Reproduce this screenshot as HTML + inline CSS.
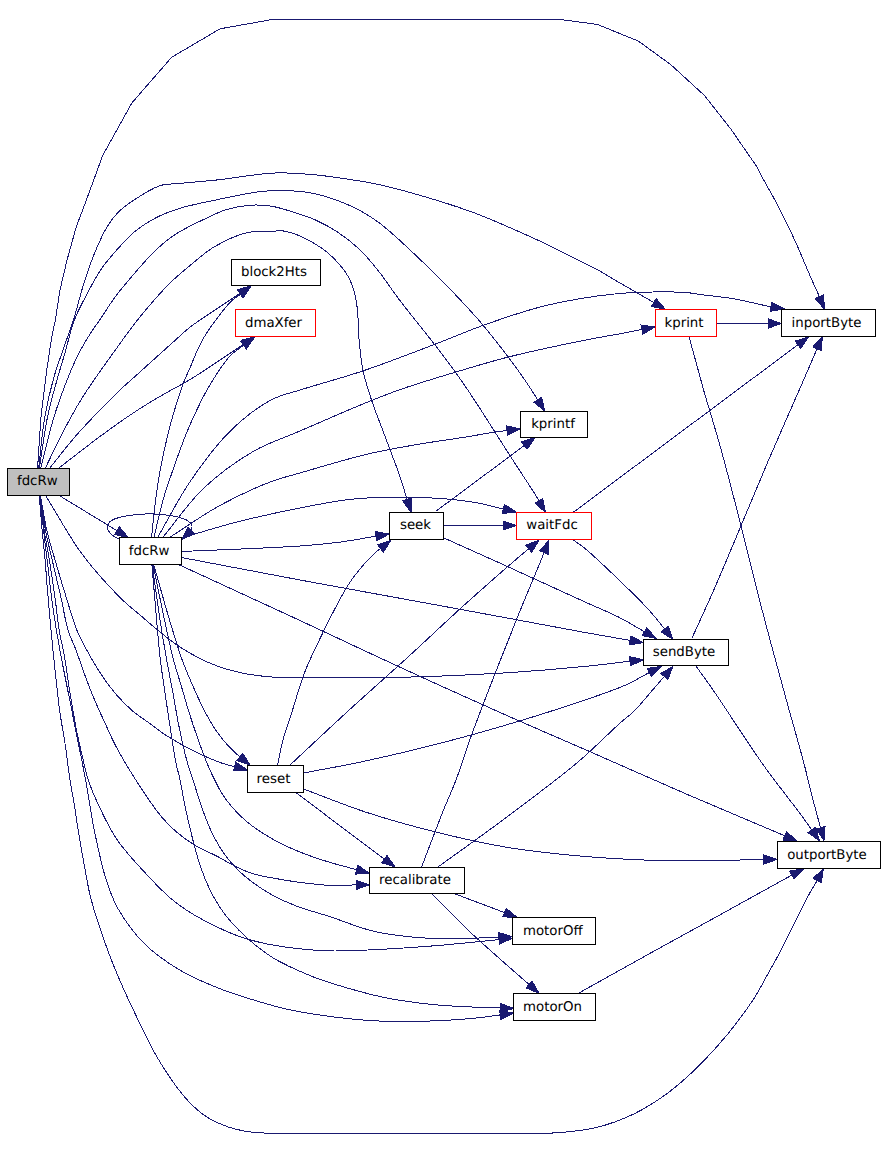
<!DOCTYPE html>
<html lang="en"><head><meta charset="utf-8"><title>fdcRw call graph</title>
<style>html,body{margin:0;padding:0;background:#fff}svg{display:block}.e{fill:none;stroke:#191970;stroke-width:1;shape-rendering:crispEdges}.a{fill:#191970;stroke:#191970;stroke-width:1;stroke-linejoin:miter;shape-rendering:crispEdges}text{font-family:"DejaVu Sans","Liberation Sans",sans-serif;font-size:13.33px;fill:#000;text-anchor:middle;text-rendering:geometricPrecision}</style></head><body>
<svg width="885" height="1152" viewBox="0 0 885 1152">
<rect width="885" height="1152" fill="#ffffff"/>
<g id="edges">
<path class="e" d="M37.6,468.0L40.8,418.5L46.3,373.3L51.7,337.0L55.4,320.0L59.9,290.4L67.1,259.7L76.2,227.0L86.4,200.0L102.6,155.7L132.0,102.8L171.6,57.3L220.1,28.8L274.5,19.1L557.6,19.1L597.3,24.4L638.4,41.1L670.7,64.6L704.5,95.5L731.0,129.3L757.4,167.5L763.7,180.0L776.6,203.0L787.5,224.7L797.0,245.0L805.0,264.0L813.2,283.0L819.4,296.6"/>
<polygon class="a" points="824.3,309.0 815.1,298.3 823.7,294.9"/>
<path class="e" d="M38.7,468.0C40.6,451.5 41.8,434.0 44.5,418.5C46.9,404.4 50.0,391.2 53.5,378.7C56.7,367.2 60.9,356.3 64.4,346.0C67.5,336.8 70.5,329.4 73.5,320.0C76.9,309.2 79.8,296.3 83.4,285.0C86.8,274.3 90.2,263.9 94.2,254.0C98.1,244.6 102.5,234.4 107.0,227.0C110.5,221.3 113.5,217.1 117.8,212.7C122.4,208.0 127.8,204.1 134.0,200.0C141.5,195.1 151.6,188.4 159.9,185.7C166.8,183.5 172.2,184.2 180.0,183.4C190.8,182.3 204.5,181.3 218.6,179.8C235.6,178.0 257.7,173.6 275.0,173.0C289.6,172.5 302.7,173.7 315.6,174.9C327.4,176.0 338.4,177.7 349.5,179.4C360.2,181.1 369.1,182.3 381.0,185.0C396.8,188.6 418.8,194.9 435.6,200.0C450.1,204.4 462.6,208.5 476.0,213.5C489.5,218.6 504.0,225.1 516.3,230.5C526.7,235.1 535.4,238.9 545.0,243.5C554.9,248.2 565.5,253.6 575.0,258.4C583.7,262.8 592.3,267.0 600.0,271.2C606.8,274.9 611.8,278.2 618.8,282.3C627.7,287.5 643.2,296.3 649.0,299.7C651.3,301.0 652.2,301.6 653.8,302.6"/>
<polygon class="a" points="665.3,309.3 651.5,306.5 656.2,298.6"/>
<path class="e" d="M39.4,468.0C42.0,451.5 44.2,433.2 47.2,418.5C49.6,406.5 52.3,397.0 55.3,386.0C58.4,374.7 62.1,362.8 65.3,351.6C68.4,340.8 70.6,329.9 74.4,320.0C77.9,310.7 82.5,302.5 87.0,294.0C91.5,285.4 96.2,276.4 101.5,268.7C106.5,261.4 112.1,255.1 117.8,248.8C123.5,242.5 129.2,236.0 135.8,230.7C142.4,225.4 150.1,220.8 157.5,217.0C164.6,213.4 170.9,211.1 179.2,208.5C189.7,205.2 203.0,202.7 215.7,200.0C229.5,197.1 246.8,193.3 259.0,191.8C267.7,190.7 273.7,190.4 281.7,190.5C290.8,190.6 301.5,191.2 311.0,193.0C320.3,194.7 329.7,197.7 338.2,200.8C346.2,203.7 353.7,207.1 360.8,211.0C367.6,214.7 372.3,217.5 380.0,223.4C393.5,233.8 415.6,255.0 432.0,271.0C447.5,286.2 464.3,303.8 476.0,317.0C484.4,326.4 489.8,333.4 496.6,342.0C503.6,350.9 511.3,360.9 517.5,369.5C522.7,376.8 527.8,384.4 531.5,390.0C534.0,393.8 535.6,396.5 537.7,399.8"/>
<polygon class="a" points="544.8,411.0 533.8,402.2 541.6,397.3"/>
<path class="e" d="M40.8,468.0C45.0,451.5 48.9,433.6 53.5,418.5C57.5,405.4 61.8,393.6 66.2,382.3C70.2,372.0 74.3,362.2 78.8,353.4C82.8,345.5 87.6,337.8 91.5,331.7C94.4,327.1 96.5,324.6 99.7,320.0C104.2,313.4 110.2,303.5 116.0,295.8C121.7,288.2 127.9,281.0 134.0,274.0C139.9,267.1 145.8,260.1 152.0,254.0C157.8,248.2 163.8,242.6 170.0,238.0C175.9,233.7 182.5,230.1 188.3,227.0C193.3,224.3 197.3,222.5 202.6,220.0C209.2,216.9 217.5,212.4 225.2,210.0C232.6,207.6 240.2,206.1 247.8,205.4C255.3,204.7 262.9,204.9 270.4,206.0C278.0,207.1 285.5,209.7 293.0,212.0C300.6,214.3 308.2,216.7 315.6,220.0C323.3,223.5 330.9,227.6 338.2,232.5C346.0,237.7 353.9,243.9 360.8,250.6C367.8,257.4 373.9,265.2 380.0,273.0C386.3,281.0 390.8,288.4 398.0,298.0C408.1,311.5 425.0,332.0 435.6,345.8C443.5,356.1 450.2,364.9 456.0,373.0C460.5,379.3 463.6,383.8 467.8,390.0C472.7,397.3 477.5,404.8 483.5,414.0C491.5,426.4 502.5,444.0 511.5,458.0C519.8,470.9 531.2,488.0 535.5,495.0C537.2,497.7 537.7,498.9 538.8,500.8"/>
<polygon class="a" points="545.5,512.3 534.9,503.1 542.8,498.5"/>
<path class="e" d="M45.4,468.0C51.1,456.3 56.6,444.4 62.5,433.0C68.3,421.9 74.3,410.6 80.6,400.4C86.4,390.8 92.6,382.1 98.7,373.3C104.7,364.7 111.1,355.9 116.8,348.0C121.9,340.9 126.4,334.4 131.3,328.0C136.0,321.8 140.2,316.5 145.7,310.0C152.6,301.8 162.3,290.6 170.0,283.0C176.3,276.8 181.6,272.5 188.3,267.0C196.1,260.6 204.4,252.6 214.0,247.0C224.2,241.0 237.9,234.7 247.8,232.5C254.9,230.9 260.6,232.0 267.0,231.8C273.4,231.6 279.1,229.9 286.2,231.4C296.1,233.5 310.8,241.0 320.0,247.0C327.4,251.8 333.1,257.4 338.2,263.0C342.8,268.0 346.7,273.3 349.5,278.8C352.1,283.9 353.7,289.1 355.0,294.6C356.4,300.2 357.0,305.5 357.6,312.0C358.4,320.0 358.2,329.7 359.0,339.0C359.9,348.9 361.3,362.0 362.7,369.5C363.5,373.9 364.2,375.8 365.4,380.0C367.2,386.3 370.0,395.7 372.7,403.5C375.4,411.4 378.6,419.2 381.5,427.0C384.4,434.8 387.4,442.7 390.3,450.5C393.2,458.3 396.4,466.1 399.1,474.0C401.8,481.8 405.4,494.0 406.5,497.5C406.8,498.5 406.9,498.8 407.1,499.5"/>
<polygon class="a" points="411.0,512.2 402.7,500.8 411.5,498.1"/>
<path class="e" d="M49.9,468.0C58.3,457.5 66.4,446.7 75.2,436.6C83.9,426.6 94.1,416.1 102.3,407.6C108.9,400.8 114.3,395.4 120.4,389.6C126.4,384.0 132.5,378.7 138.5,373.3C144.5,367.9 150.6,362.4 156.6,357.0C162.6,351.6 168.9,345.9 174.7,340.7C180.0,336.0 183.2,332.5 190.0,327.2C201.7,318.2 223.3,304.7 240.0,293.4"/>
<polygon class="a" points="251.0,286.0 242.6,297.3 237.4,289.6"/>
<path class="e" d="M58.9,468.0C73.4,456.9 88.4,445.0 102.3,434.8C114.8,425.6 127.2,416.8 138.5,409.5C148.1,403.3 156.8,398.3 165.6,393.2C173.9,388.4 180.4,385.4 190.0,379.6C204.6,370.7 226.1,355.8 244.2,343.9"/>
<polygon class="a" points="255.3,336.6 246.7,347.8 241.7,340.1"/>
<path class="e" d="M59.2,495.5L116.9,530.6"/>
<polygon class="a" points="128.3,537.5 114.5,534.5 119.3,526.7"/>
<path class="e" d="M45.6,495.5C57.7,515.0 68.9,536.3 82.0,554.0C94.2,570.4 110.0,587.5 121.0,598.5C128.2,605.6 133.5,609.5 140.0,615.0C146.6,620.7 153.4,626.7 160.3,632.2C167.0,637.6 173.0,642.6 180.7,647.5C189.7,653.2 200.8,659.4 211.2,663.7C221.2,667.8 231.4,670.7 241.7,672.9C251.8,675.1 260.9,676.2 272.2,677.0C286.3,678.0 301.9,677.5 320.0,677.6C343.6,677.7 373.0,678.0 401.7,677.3C433.8,676.6 471.4,675.0 503.4,673.0C532.1,671.2 561.8,668.7 585.0,666.4C602.3,664.7 615.1,662.9 630.1,661.2"/>
<polygon class="a" points="643.3,659.7 630.6,665.8 629.6,656.6"/>
<path class="e" d="M40.4,495.5C42.6,507.2 44.4,519.8 46.9,530.7C49.1,540.4 51.5,547.9 54.4,557.8C57.9,570.0 62.6,585.8 66.6,598.5C70.1,609.7 73.0,620.8 76.8,630.0C79.9,637.6 83.1,643.4 86.9,650.3C91.0,657.8 95.5,666.0 100.5,673.4C105.5,680.9 111.1,688.6 116.8,695.1C122.0,701.1 127.4,706.6 133.1,711.4C138.5,716.0 144.5,719.6 150.0,723.6C155.3,727.4 159.2,731.0 165.4,735.0C173.9,740.5 186.6,747.6 196.7,752.5C205.6,756.9 215.6,761.0 222.7,763.4C227.4,765.0 230.7,765.5 234.6,766.6"/>
<polygon class="a" points="247.5,770.0 233.5,771.0 235.8,762.1"/>
<path class="e" d="M40.2,495.5C42.0,507.2 43.5,519.8 45.6,530.7C47.4,540.4 49.4,547.9 51.7,557.8C54.5,570.0 58.3,585.8 61.2,598.5C63.7,609.7 65.2,620.8 68.0,630.0C70.3,637.6 73.5,643.3 76.1,650.3C78.9,657.7 81.3,665.6 84.2,673.4C87.2,681.4 90.3,689.7 93.7,697.8C97.1,706.0 100.8,714.0 104.6,722.2C108.5,730.7 112.0,739.1 116.8,748.0C122.2,758.2 129.8,770.5 135.8,780.0C140.8,787.9 145.3,794.8 150.0,801.4C154.1,807.2 157.8,812.5 162.2,817.6C166.6,822.7 171.2,827.4 176.4,831.9C181.9,836.6 188.1,841.1 194.7,845.1C201.6,849.3 209.8,852.5 217.1,856.3C224.1,860.0 231.0,864.4 237.5,867.5C243.1,870.2 247.8,872.2 253.7,874.0C260.5,876.0 268.3,877.2 276.1,878.6C284.5,880.1 293.6,881.6 302.5,882.7C311.6,883.8 320.9,885.0 330.0,885.4C338.8,885.8 347.5,885.1 356.2,884.9"/>
<polygon class="a" points="369.5,884.7 356.3,889.5 356.1,880.3"/>
<path class="e" d="M40.0,495.5C41.4,507.2 42.6,519.8 44.2,530.7C45.6,540.3 47.4,547.8 49.0,557.8C51.0,570.0 53.3,585.8 55.1,598.5C56.7,609.7 57.5,619.9 59.2,630.0C60.7,639.4 63.0,648.0 64.6,657.1C66.2,666.1 67.3,675.8 68.6,684.2C69.7,691.5 70.7,697.3 72.0,704.6C73.4,713.0 75.0,722.7 76.8,731.7C78.6,740.8 80.9,750.3 82.9,758.8C84.7,766.3 85.8,772.5 88.3,780.0C91.2,788.8 95.4,798.6 100.0,808.2C105.0,818.7 110.1,829.7 117.6,840.5C126.3,853.0 140.3,867.6 150.0,878.0C157.4,885.9 163.7,892.3 170.3,898.0C175.9,902.8 180.8,906.4 186.6,910.2C192.6,914.2 198.4,917.5 205.7,921.3C215.0,926.1 227.3,932.1 238.0,936.0C247.9,939.6 256.6,941.8 267.4,944.0C280.2,946.6 297.8,948.7 310.0,949.8C319.1,950.6 325.3,950.9 334.0,951.0C344.3,951.1 354.6,950.6 367.8,950.0C386.5,949.1 413.4,947.5 435.6,945.7C457.1,944.0 477.8,941.6 499.0,939.6"/>
<polygon class="a" points="512.2,938.3 499.4,944.2 498.5,935.0"/>
<path class="e" d="M39.7,495.5C41.0,507.2 42.3,519.7 43.6,530.7C44.7,540.3 45.7,547.9 46.9,557.8C48.4,570.0 50.0,585.8 51.7,598.5C53.2,609.7 54.6,619.3 56.4,630.0C58.2,641.1 60.4,652.6 62.5,663.9C64.7,675.2 67.2,687.1 69.3,697.8C71.2,707.3 72.8,715.4 74.7,724.9C76.8,735.6 79.5,748.8 81.5,758.8C83.1,766.7 84.0,771.5 85.6,780.0C88.0,792.9 90.7,812.5 94.0,828.8C97.4,845.4 101.3,864.4 105.8,878.7C109.4,889.9 112.1,898.1 117.6,908.0C124.2,919.6 133.7,933.0 144.0,943.3C154.3,953.6 166.7,962.2 179.3,969.8C192.1,977.5 207.1,983.6 220.4,988.9C232.4,993.7 244.1,997.1 255.6,1000.6C266.6,1003.9 276.2,1006.8 288.0,1009.4C301.9,1012.4 318.3,1015.0 334.0,1017.0C350.4,1019.1 367.8,1020.7 384.7,1021.3C401.6,1021.9 419.6,1021.4 435.6,1020.8C449.9,1020.2 464.5,1019.2 476.3,1018.0C485.4,1017.1 492.3,1015.9 500.3,1014.9"/>
<polygon class="a" points="513.5,1013.2 500.9,1019.5 499.7,1010.3"/>
<path class="e" d="M39.2,495.5C40.2,507.2 41.2,519.7 42.2,530.7C43.1,540.3 44.0,548.3 44.9,557.8C45.9,568.5 46.6,580.1 47.6,591.7C48.6,604.1 49.8,617.0 51.0,630.0C52.3,643.4 53.6,657.1 55.1,670.7C56.6,684.3 58.0,698.5 59.8,711.4C61.4,723.2 63.6,733.9 65.3,745.3C67.0,756.8 68.4,769.6 70.0,780.0C71.3,788.5 72.6,794.5 74.0,803.0C75.7,813.4 77.5,826.4 79.4,837.6C81.2,848.3 83.0,858.6 85.0,869.0C86.9,879.2 88.1,888.0 91.1,899.3C95.0,914.1 102.3,935.5 107.6,950.0C111.7,961.2 114.9,969.0 119.4,979.4C124.6,991.4 131.0,1005.2 137.0,1017.6C142.8,1029.6 148.2,1041.5 154.6,1052.8C160.9,1063.9 168.3,1075.6 175.2,1085.0C181.0,1092.9 186.9,1100.0 192.8,1105.7C197.7,1110.5 202.0,1114.1 207.5,1117.5C213.6,1121.2 221.3,1124.6 228.0,1126.9C234.0,1129.0 239.3,1130.2 245.7,1131.3C252.9,1132.5 260.8,1132.9 269.2,1133.3C278.8,1133.7 286.8,1133.3 300.0,1133.3C323.8,1133.3 366.7,1133.3 400.0,1133.3C433.3,1133.3 471.7,1133.4 500.0,1133.3C521.0,1133.2 537.8,1134.0 554.7,1132.9C569.4,1131.9 582.5,1130.9 595.8,1127.7C608.9,1124.5 621.9,1119.7 634.0,1113.9C645.9,1108.1 657.0,1101.0 667.8,1093.0C679.1,1084.7 690.0,1074.6 700.1,1064.6C710.0,1054.8 719.1,1044.6 728.0,1033.7C737.2,1022.4 747.3,1008.8 754.3,998.0C759.6,989.8 762.8,983.0 767.1,975.3C771.6,967.3 776.3,959.2 780.7,950.8C785.3,942.0 789.7,932.7 794.2,923.7C798.7,914.7 803.6,904.4 807.8,896.6C811.1,890.4 814.1,885.8 817.2,880.4"/>
<polygon class="a" points="823.4,868.6 821.3,882.5 813.2,878.3"/>
<path class="e" d="M120.5,539.5C118.2,538.3 115.5,537.4 113.5,536.0C111.7,534.7 110.1,533.2 109.0,531.5C108.0,530.0 106.9,528.3 107.1,526.6C107.4,524.6 109.2,522.1 111.5,520.5C114.9,518.1 121.3,516.9 127.0,515.8C133.7,514.5 142.0,513.8 149.5,513.8C157.0,513.8 165.3,514.5 172.0,515.8C177.7,516.9 184.1,518.2 187.5,520.5C189.8,522.0 191.5,524.2 192.0,526.0C192.4,527.5 191.5,528.9 191.2,530.4"/>
<polygon class="a" points="181.8,539.6 188.1,527.0 194.5,533.6"/>
<path class="e" d="M151.5,537.5C152.7,526.7 153.6,516.0 155.0,505.0C156.5,493.5 158.1,481.5 160.2,470.0C162.3,458.7 164.9,447.1 167.4,436.6C169.7,427.1 172.0,418.5 174.7,409.5C177.4,400.4 180.8,389.9 183.7,382.3C185.9,376.7 187.5,373.5 190.0,367.9C193.5,359.9 197.2,348.9 203.0,339.0C210.0,327.1 223.2,309.5 230.5,302.0C234.3,298.1 237.2,296.8 240.5,294.2"/>
<polygon class="a" points="251.0,286.0 243.3,297.8 237.7,290.6"/>
<path class="e" d="M154.0,537.5C157.0,525.0 159.7,511.7 163.0,500.0C166.0,489.4 169.5,480.0 172.9,470.0C176.4,460.0 180.5,448.5 183.7,440.2C186.0,434.2 187.3,430.9 190.0,424.8C194.2,415.5 200.5,401.3 207.0,390.0C213.7,378.4 222.8,363.8 230.0,356.0C234.7,350.9 239.0,348.8 243.6,345.3"/>
<polygon class="a" points="254.0,337.0 246.4,348.9 240.7,341.6"/>
<path class="e" d="M157.6,537.5C168.4,518.9 177.9,499.5 190.0,481.7C202.2,463.9 216.1,444.9 230.5,430.8C243.3,418.3 257.7,407.1 271.0,400.0C281.9,394.2 290.9,393.0 303.4,389.0C320.2,383.6 342.0,378.0 362.7,371.0C385.9,363.2 413.9,352.3 435.6,344.0C453.1,337.3 466.6,331.3 483.0,325.4C500.4,319.2 520.4,312.4 537.3,307.8C551.7,303.9 564.4,301.4 578.0,299.0C591.6,296.6 606.0,294.7 619.0,293.5C630.8,292.5 641.5,292.2 652.8,292.0C664.1,291.8 678.0,291.9 686.7,292.6C692.2,293.0 694.8,293.8 700.0,294.5C707.5,295.5 720.0,296.7 727.4,297.8C732.4,298.5 734.9,299.0 740.0,300.0C748.0,301.6 760.6,304.6 770.8,306.9"/>
<polygon class="a" points="784.0,308.8 770.2,311.4 771.5,302.3"/>
<path class="e" d="M162.7,537.5C176.3,521.2 188.1,502.9 203.4,488.5C218.6,474.1 237.0,460.8 254.0,451.0C269.2,442.2 283.2,438.3 300.0,431.0C320.4,422.2 349.0,409.6 367.8,402.0C381.0,396.7 389.0,393.4 401.7,389.0C417.6,383.5 438.0,377.4 456.0,372.0C473.6,366.7 491.2,361.4 508.5,357.0C525.1,352.7 541.8,349.2 557.6,345.8C572.2,342.7 588.7,339.4 600.0,337.3C607.6,335.9 612.4,335.2 619.0,334.0C626.3,332.7 634.3,331.0 641.9,329.5"/>
<polygon class="a" points="655.0,327.0 642.8,334.1 641.1,325.0"/>
<path class="e" d="M169.5,537.5C186.3,526.8 202.8,514.8 220.0,505.4C236.7,496.3 256.2,487.3 271.0,481.7C281.9,477.6 288.3,476.4 300.0,473.0C317.9,467.8 346.6,459.0 367.8,454.0C386.2,449.7 403.3,446.9 420.0,444.0C435.3,441.4 450.8,439.4 464.0,437.3C474.8,435.6 485.4,433.5 493.4,432.3C498.8,431.5 502.5,431.1 507.1,430.5"/>
<polygon class="a" points="520.3,428.8 507.7,435.1 506.5,426.0"/>
<path class="e" d="M183.0,537.5C201.0,532.3 218.2,526.8 237.0,522.0C257.1,516.9 280.1,511.9 300.0,508.0C317.8,504.5 333.8,501.1 350.8,499.3C367.7,497.5 385.7,497.0 401.7,497.0C416.0,497.0 429.5,497.6 442.4,498.6C454.2,499.5 465.7,500.8 476.3,502.7C485.9,504.4 494.3,506.9 503.3,509.0"/>
<polygon class="a" points="516.3,512.0 502.3,513.5 504.4,504.5"/>
<path class="e" d="M181.5,551.5C221.0,549.7 270.8,548.1 300.0,546.0C317.1,544.8 327.6,543.7 340.7,542.0C352.9,540.4 364.3,538.1 376.1,536.2"/>
<polygon class="a" points="389.2,534.0 376.8,540.7 375.3,531.6"/>
<path class="e" d="M181.5,557.5C221.0,565.0 262.0,572.9 300.0,580.0C335.2,586.6 367.8,592.4 401.7,598.6C435.6,604.8 471.4,611.4 503.4,617.3C532.1,622.6 561.8,628.3 585.0,632.5C602.3,635.6 615.1,637.8 630.2,640.4"/>
<polygon class="a" points="643.3,642.7 629.4,644.9 631.0,635.9"/>
<path class="e" d="M178.5,564.5C219.0,583.2 261.3,602.6 300.0,620.5C335.4,636.9 367.8,652.4 401.7,668.0C435.6,683.6 471.3,699.8 503.4,714.0C532.0,726.7 556.3,737.0 585.0,749.5C617.0,763.5 656.2,781.0 686.7,794.2C711.5,804.9 736.4,815.3 754.5,823.0C766.6,828.1 774.7,831.5 784.8,835.8"/>
<polygon class="a" points="797.0,841.0 783.0,840.0 786.5,831.6"/>
<path class="e" d="M153.7,564.5C159.0,583.0 164.4,603.0 169.5,620.0C173.9,634.5 177.9,648.1 182.2,660.0C185.8,669.9 189.5,678.3 193.3,686.9C196.9,695.1 200.5,703.2 204.4,710.6C207.9,717.4 211.5,723.8 215.4,729.6C218.9,734.8 222.5,739.4 226.5,743.9C230.6,748.5 235.4,752.6 239.8,757.0"/>
<polygon class="a" points="250.3,765.2 237.0,760.6 242.7,753.4"/>
<path class="e" d="M153.0,564.5C156.8,583.0 160.8,603.0 164.5,620.0C167.6,634.4 170.5,648.4 173.5,660.0C175.9,669.0 178.2,675.5 180.6,683.7C183.2,692.4 185.7,701.5 188.5,710.6C191.4,720.0 194.7,729.9 198.0,739.1C201.1,747.8 204.4,757.0 207.5,764.4C210.0,770.3 212.3,775.2 214.7,780.0C216.9,784.3 218.6,788.1 221.2,792.2C224.1,796.8 227.5,801.8 231.4,806.4C235.6,811.3 240.4,816.2 245.6,820.7C251.1,825.4 257.5,829.9 263.9,833.9C270.4,838.0 277.2,841.7 284.2,845.1C291.4,848.6 299.0,851.7 306.6,854.6C314.3,857.5 321.9,859.9 330.0,862.4C338.6,865.0 347.8,867.3 356.7,869.7"/>
<polygon class="a" points="369.5,873.2 355.5,874.1 357.9,865.3"/>
<path class="e" d="M152.2,564.5C154.8,583.0 157.4,603.0 160.0,620.0C162.2,634.4 164.5,647.5 166.7,660.0C168.7,671.2 170.7,680.8 172.7,691.6C174.8,702.9 176.6,714.9 179.0,726.5C181.4,738.1 184.3,751.5 187.0,761.3C189.0,768.5 191.1,773.8 193.1,780.0C195.1,786.1 196.7,792.1 198.8,798.3C201.0,804.9 203.2,811.9 205.9,818.6C208.6,825.5 211.7,832.7 215.1,839.0C218.2,844.8 221.5,850.1 225.2,855.2C228.9,860.3 233.1,865.1 237.5,869.5C241.9,873.9 246.4,877.7 251.7,881.7C257.7,886.2 264.8,890.9 272.0,894.9C279.6,899.1 287.5,902.7 296.4,906.1C306.6,910.0 318.0,912.8 330.0,916.7C343.8,921.2 358.8,927.9 374.6,931.5C391.6,935.4 412.0,937.2 428.8,938.3C443.3,939.2 457.0,938.5 469.5,938.3C480.1,938.1 489.1,937.5 498.9,937.1"/>
<polygon class="a" points="512.2,936.6 499.1,941.7 498.7,932.5"/>
<path class="e" d="M151.9,564.5C153.5,583.0 155.1,603.0 156.6,620.0C157.9,634.4 158.9,647.5 160.4,660.0C161.7,671.2 163.3,681.1 164.8,691.6C166.3,702.2 167.9,712.2 169.6,723.3C171.5,735.7 173.8,752.4 175.9,762.8C177.3,769.7 178.8,773.7 180.1,780.0C181.7,787.4 183.0,796.5 184.6,804.4C186.2,812.0 188.0,819.5 189.7,826.8C191.3,833.7 192.9,840.3 194.7,847.1C196.6,853.9 198.4,860.8 200.8,867.5C203.2,874.3 205.9,881.3 209.0,887.8C212.0,894.2 215.5,900.5 219.1,906.1C222.3,911.1 225.0,914.9 229.2,919.8C234.7,926.2 242.5,934.0 249.8,940.4C257.2,946.8 264.3,952.5 273.3,958.0C283.9,964.4 298.9,971.0 310.0,975.6C318.7,979.2 324.5,981.1 334.0,984.0C347.7,988.2 367.7,994.1 384.7,997.6C401.5,1001.0 419.5,1003.2 435.6,1004.8C449.9,1006.2 464.5,1006.7 476.3,1007.2C485.3,1007.6 492.2,1007.7 500.2,1008.0"/>
<polygon class="a" points="513.5,1008.4 500.1,1012.6 500.4,1003.4"/>
<path class="e" d="M435.6,511.5L524.3,445.5"/>
<polygon class="a" points="535.0,437.6 527.1,449.2 521.6,441.8"/>
<path class="e" d="M443.5,525.5L503.0,525.5"/>
<polygon class="a" points="516.3,525.5 503.0,530.1 503.0,520.9"/>
<path class="e" d="M444.0,538.0C463.8,546.9 482.0,555.0 503.4,564.7C528.5,576.1 563.6,592.3 585.0,602.0C598.8,608.2 608.6,612.0 619.0,617.3C628.2,622.0 636.0,626.9 644.4,631.7"/>
<polygon class="a" points="656.0,638.3 642.2,635.7 646.7,627.7"/>
<path class="e" d="M277.6,765.5C279.4,757.0 280.8,748.1 283.0,740.0C285.0,732.4 287.2,726.9 290.0,718.3C294.0,705.8 299.4,686.1 304.7,672.2C309.3,660.3 314.4,650.4 319.4,639.9C324.2,629.8 329.0,620.0 334.0,610.5C338.8,601.4 343.6,591.9 348.8,584.0C353.4,577.0 358.6,570.6 363.4,565.0C367.6,560.1 372.8,554.9 376.0,552.0C377.8,550.4 379.0,549.7 380.5,548.5"/>
<polygon class="a" points="391.0,540.3 383.3,552.1 377.7,544.9"/>
<path class="e" d="M289.5,765.5C309.3,747.1 329.0,728.5 348.8,710.4C368.3,692.5 388.0,675.3 407.5,657.5C427.1,639.6 446.6,620.9 466.3,603.2C485.8,585.7 517.1,558.5 525.0,551.8C527.0,550.1 527.5,549.7 528.8,548.7"/>
<polygon class="a" points="539.0,540.2 531.7,552.2 525.8,545.1"/>
<path class="e" d="M303.5,773.0C322.7,769.3 340.6,766.3 361.0,762.0C384.3,757.0 411.4,750.6 435.6,744.4C458.8,738.5 479.8,732.8 503.4,725.8C529.4,718.1 562.6,707.7 585.0,700.0C601.0,694.5 614.1,690.2 625.7,685.0C634.8,681.0 641.4,676.7 649.2,672.6"/>
<polygon class="a" points="661.0,666.4 651.4,676.7 647.1,668.5"/>
<path class="e" d="M303.5,789.0C324.9,796.9 345.9,805.7 367.8,812.8C390.0,820.0 412.9,826.3 435.6,832.0C458.1,837.6 482.4,843.0 503.4,846.7C521.4,849.9 537.5,851.7 554.0,853.5C569.7,855.3 584.1,856.5 600.0,857.6C617.0,858.8 634.1,859.8 652.8,860.3C674.0,860.8 700.5,860.5 720.6,860.3C736.6,860.2 749.5,859.8 763.9,859.5"/>
<polygon class="a" points="777.2,859.3 764.0,864.1 763.8,854.9"/>
<path class="e" d="M296.0,792.5C310.9,803.8 325.9,815.2 340.7,826.4C355.3,837.4 369.8,848.2 384.3,859.0"/>
<polygon class="a" points="395.0,867.0 381.6,862.7 387.1,855.4"/>
<path class="e" d="M421.4,867.5C428.4,849.3 436.1,828.7 442.4,812.8C447.3,800.4 451.5,791.9 456.0,780.0C461.3,766.0 466.0,750.3 472.0,733.9C479.0,714.8 487.7,692.5 495.6,672.2C503.4,652.3 511.4,632.2 519.0,613.4C526.0,596.1 535.4,574.1 539.7,563.5C541.7,558.5 542.6,556.2 544.1,552.6"/>
<polygon class="a" points="549.0,540.2 548.3,554.3 539.8,550.8"/>
<path class="e" d="M437.3,867.5C459.3,851.5 480.8,836.5 503.4,819.6C527.6,801.5 557.2,779.6 578.0,762.0C594.1,748.4 608.4,733.5 619.0,724.0C625.6,718.1 630.2,715.1 635.3,710.0C640.5,704.8 645.1,698.6 650.0,693.0C654.8,687.4 659.5,682.0 664.3,676.5"/>
<polygon class="a" points="673.0,666.4 667.8,679.5 660.8,673.5"/>
<path class="e" d="M454.0,893.5L504.6,912.6"/>
<polygon class="a" points="517.0,917.3 502.9,916.9 506.2,908.3"/>
<path class="e" d="M431.5,893.5C444.2,906.2 457.0,919.7 469.5,931.5C481.0,942.4 492.9,952.6 503.4,962.0C512.5,970.1 520.5,977.0 529.0,984.4"/>
<polygon class="a" points="539.0,993.2 526.0,987.9 532.0,981.0"/>
<path class="e" d="M578.0,993.5C602.9,979.6 628.5,965.3 652.8,951.8C675.9,939.0 698.0,927.0 720.6,914.5C743.2,902.0 780.0,881.6 788.4,877.0C790.3,876.0 790.7,875.7 791.9,875.1"/>
<polygon class="a" points="803.6,868.8 794.1,879.2 789.7,871.1"/>
<path class="e" d="M716.5,323.5L768.3,323.5"/>
<polygon class="a" points="781.6,323.5 768.3,328.1 768.3,318.9"/>
<path class="e" d="M689.0,336.5C693.9,354.3 698.5,371.8 703.6,390.0C709.0,408.9 714.8,427.0 720.6,447.8C727.3,471.8 734.3,499.5 741.0,525.8C747.8,552.6 754.1,579.4 761.3,607.0C768.8,635.8 777.5,667.7 785.0,695.0C791.5,718.9 798.7,743.4 803.6,762.0C807.1,775.2 809.1,784.9 812.0,796.0C814.8,806.8 817.7,817.2 820.5,827.8"/>
<polygon class="a" points="824.0,840.6 816.1,829.0 825.0,826.6"/>
<path class="e" d="M573.0,512.5L798.0,344.7"/>
<polygon class="a" points="808.7,336.8 800.8,348.4 795.3,341.1"/>
<path class="e" d="M572.5,539.5C576.7,542.5 580.0,544.4 585.0,548.5C593.7,555.6 608.1,569.5 619.0,580.0C629.5,590.1 641.2,601.4 649.4,610.5C655.5,617.3 659.5,622.8 664.6,629.0"/>
<polygon class="a" points="673.0,639.3 661.0,631.9 668.1,626.1"/>
<path class="e" d="M691.8,638.5C699.1,622.3 706.2,607.3 713.8,590.0C722.5,570.1 732.0,547.2 741.0,525.8C750.0,504.4 758.3,484.1 768.0,461.4C779.0,435.8 794.6,400.8 803.6,380.0C809.2,367.2 812.6,359.2 817.0,348.8"/>
<polygon class="a" points="822.3,336.6 821.3,350.6 812.8,347.0"/>
<path class="e" d="M695.5,665.5C700.7,672.7 705.9,679.7 711.0,687.0C716.2,694.5 721.1,701.9 726.5,710.0C732.4,718.9 738.6,728.5 745.0,738.0C751.6,747.9 757.5,756.9 765.5,768.0C775.8,782.3 793.8,805.0 802.0,816.2C806.4,822.1 808.5,825.4 811.8,830.0"/>
<polygon class="a" points="819.5,840.8 808.0,832.6 815.5,827.3"/>
</g>
<g id="nodes">
<rect x="7.5" y="468.5" width="62.0" height="27.0" fill="#bfbfbf" stroke="#000000" stroke-width="1"/>
<text x="37.3" y="485.3">fdcRw</text>
<rect x="119.5" y="537.5" width="62.0" height="27.0" fill="#ffffff" stroke="#000000" stroke-width="1"/>
<text x="149.1" y="555.3">fdcRw</text>
<rect x="231.5" y="259.5" width="89.0" height="26.0" fill="#ffffff" stroke="#000000" stroke-width="1"/>
<text x="274.0" y="276.0">block2Hts</text>
<rect x="235.5" y="309.5" width="80.0" height="27.0" fill="#ffffff" stroke="#ff0000" stroke-width="1"/>
<text x="273.5" y="327.3">dmaXfer</text>
<rect x="247.5" y="765.5" width="56.0" height="27.0" fill="#ffffff" stroke="#000000" stroke-width="1"/>
<text x="273.5" y="783.3">reset</text>
<rect x="389.5" y="512.5" width="54.0" height="27.0" fill="#ffffff" stroke="#000000" stroke-width="1"/>
<text x="415.5" y="529.3">seek</text>
<rect x="369.5" y="867.5" width="95.0" height="26.0" fill="#ffffff" stroke="#000000" stroke-width="1"/>
<text x="415.0" y="884.0">recalibrate</text>
<rect x="520.5" y="411.5" width="67.0" height="26.0" fill="#ffffff" stroke="#000000" stroke-width="1"/>
<text x="553.0" y="428.0">kprintf</text>
<rect x="516.5" y="512.5" width="75.0" height="27.0" fill="#ffffff" stroke="#ff0000" stroke-width="1"/>
<text x="552.0" y="529.3">waitFdc</text>
<rect x="512.5" y="917.5" width="83.0" height="27.0" fill="#ffffff" stroke="#000000" stroke-width="1"/>
<text x="552.8" y="935.3">motorOff</text>
<rect x="513.5" y="993.5" width="82.0" height="27.0" fill="#ffffff" stroke="#000000" stroke-width="1"/>
<text x="552.5" y="1011.3">motorOn</text>
<rect x="655.5" y="309.5" width="61.0" height="27.0" fill="#ffffff" stroke="#ff0000" stroke-width="1"/>
<text x="684.0" y="327.3">kprint</text>
<rect x="643.5" y="639.5" width="85.0" height="26.0" fill="#ffffff" stroke="#000000" stroke-width="1"/>
<text x="684.0" y="656.0">sendByte</text>
<rect x="781.5" y="309.5" width="94.0" height="27.0" fill="#ffffff" stroke="#000000" stroke-width="1"/>
<text x="826.5" y="327.3">inportByte</text>
<rect x="777.5" y="841.5" width="103.0" height="27.0" fill="#ffffff" stroke="#000000" stroke-width="1"/>
<text x="827.0" y="859.3">outportByte</text>
</g>
</svg></body></html>
